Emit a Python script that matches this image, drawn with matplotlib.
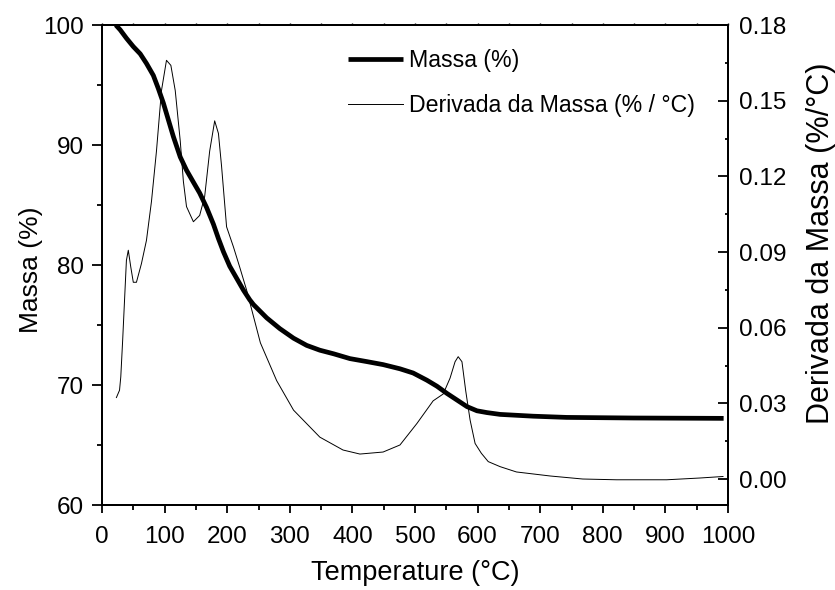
import matplotlib.pyplot as plt
from matplotlib.ticker import MultipleLocator, FormatStrFormatter

plt.rcParams["font.family"] = ["Liberation Sans", "DejaVu Sans"]

# Mass curve (%)
temp_mass = [22, 29, 39, 50, 61, 71, 82, 90, 98, 106, 114, 125, 135, 146, 156, 167, 178,
             186, 194, 204, 215, 226, 236, 242, 263, 284, 306, 327, 348, 370, 396, 423,
             449, 476, 497, 519, 535, 551, 567, 583, 599, 615, 636, 689, 742, 849, 993]
mass = [100.0, 99.6, 98.9, 98.2, 97.6, 96.8, 95.8, 94.7, 93.5, 92.1, 90.7, 89.0, 87.9,
        86.9, 86.0, 84.8, 83.4, 82.2, 81.1, 79.9, 78.9, 77.9, 77.1, 76.7, 75.6, 74.7,
        73.9, 73.3, 72.9, 72.6, 72.2, 71.95, 71.7, 71.35, 71.0, 70.4, 69.9, 69.3, 68.75,
        68.2, 67.85, 67.7, 67.55, 67.4, 67.3, 67.25, 67.22]

# Derivative curve (%/°C)
temp_deriv = [23, 28, 30, 33, 36, 39, 42, 46, 50, 55, 63, 71, 79, 87, 95, 103, 110, 117,
              125, 130, 135, 146, 156, 164, 172, 180, 186, 191, 199, 210, 220, 231, 253,
              279, 306, 348, 385, 412, 449, 476, 503, 529, 545, 556, 564, 569, 575, 581,
              588, 596, 606, 617, 636, 662, 716, 768, 822, 902, 955, 992]
deriv = [0.0323, 0.0352, 0.0405, 0.055, 0.0709, 0.0867, 0.0907, 0.084, 0.078, 0.078,
         0.0854, 0.0946, 0.110, 0.130, 0.154, 0.166, 0.164, 0.154, 0.134, 0.118, 0.108,
         0.102, 0.1045, 0.112, 0.130, 0.142, 0.137, 0.124, 0.100, 0.092, 0.084, 0.0749,
         0.054, 0.039, 0.0273, 0.0166, 0.0115, 0.0099, 0.0107, 0.0135, 0.022, 0.031,
         0.0337, 0.040, 0.0465, 0.0485, 0.0465, 0.035, 0.0234, 0.0141, 0.0102, 0.0069,
         0.0049, 0.0028, 0.0012, 0.0, -0.0003, -0.0003, 0.0004, 0.001]

TICKSIZE = 17.5

fig, ax = plt.subplots(figsize=(8.35, 5.9), dpi=100)
fig.subplots_adjust(left=102 / 835, right=728 / 835, top=1 - 25 / 590, bottom=1 - 505 / 590)
ax2 = ax.twinx()

l1, = ax.plot(temp_mass, mass, color="black", lw=3.4, solid_capstyle="butt",
              solid_joinstyle="round", zorder=3, label="Massa (%)")
l2, = ax2.plot(temp_deriv, deriv, color="black", lw=0.7, label="Derivada da Massa (% / °C)")

ax.set_xlim(0, 1000)
ax.set_ylim(60, 100)
ax2.set_ylim(-0.0103, 0.18)

ax.xaxis.set_major_locator(MultipleLocator(100))
ax.xaxis.set_minor_locator(MultipleLocator(50))
ax.yaxis.set_major_locator(MultipleLocator(10))
ax.yaxis.set_minor_locator(MultipleLocator(5))
ax2.yaxis.set_major_locator(MultipleLocator(0.03))
ax2.yaxis.set_minor_locator(MultipleLocator(0.015))
ax2.yaxis.set_major_formatter(FormatStrFormatter('%.2f'))

for a in (ax, ax2):
    for s in a.spines.values():
        s.set_linewidth(1.4)
ax.tick_params(axis='x', which='major', direction='out', length=6, width=1.3,
               labelsize=TICKSIZE, pad=9, top=False)
ax.tick_params(axis='x', which='minor', direction='out', length=3.5, width=1.3, top=False)
ax.tick_params(axis='y', which='major', direction='out', length=7, width=1.3,
               labelsize=TICKSIZE, pad=6, right=False)
ax.tick_params(axis='y', which='minor', direction='out', length=3.5, width=1.3, right=False)
ax2.tick_params(axis='y', which='major', direction='in', length=7, width=1.3,
                labelsize=TICKSIZE, pad=8)
ax2.tick_params(axis='y', which='minor', direction='in', length=2.5, width=1.3)

# tiny marks on the top edge
top = ax.secondary_xaxis('top')
top.xaxis.set_major_locator(MultipleLocator(50))
top.tick_params(axis='x', direction='out', length=1.5, width=1.0, labeltop=False)
top.spines['top'].set_linewidth(1.4)

ax.set_xlabel("Temperature (°C)", fontsize=19.5)
ax.set_ylabel("Massa (%)", fontsize=19)
ax2.set_ylabel("Derivada da Massa (%/°C)", fontsize=22, rotation=90)
ax.xaxis.set_label_coords(0.5, -0.115)
ax.yaxis.set_label_coords(-0.094, 0.49)
ax2.yaxis.set_label_coords(1.124, 0.545)

ax2.legend(handles=[l1, l2], loc="upper left", bbox_to_anchor=(0.393, 0.950),
           borderaxespad=0, borderpad=0, frameon=False, fontsize=16.7,
           handlelength=2.35, handletextpad=0.26, labelspacing=0.97)

plt.savefig("out.png", dpi=100)
